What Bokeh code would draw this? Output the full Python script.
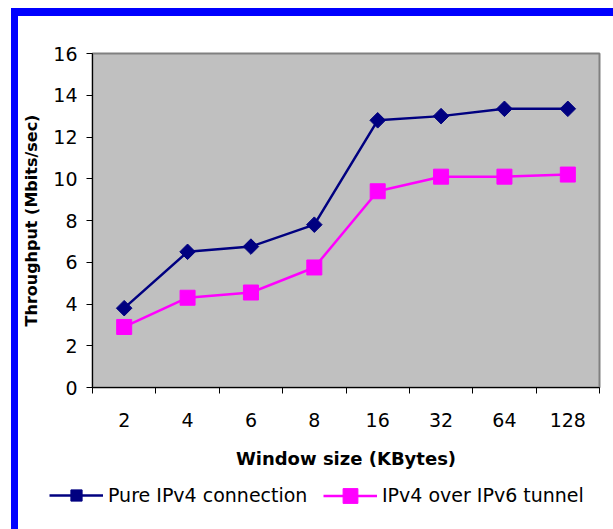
import numpy as np
from bokeh.plotting import figure
from bokeh.layouts import column
from bokeh.models import Range1d, FixedTicker, Legend, LegendItem
from bokeh.embed import file_html
from bokeh.resources import INLINE

# TCP window sizes (KBytes) and measured throughput (Mbits/sec)
window_sizes = ["2", "4", "6", "8", "16", "32", "64", "128"]
pure_ipv4 = [3.8, 6.5, 6.75, 7.8, 12.8, 13.0, 13.35, 13.35]
ipv4_over_ipv6 = [2.9, 4.3, 4.55, 5.75, 9.4, 10.1, 10.1, 10.2]
y_ticks = [0, 2, 4, 6, 8, 10, 12, 14, 16]
series_names = ["Pure IPv4 connection", "IPv4 over IPv6 tunnel"]

FONT = "DejaVu Sans"
NAVY = "#000080"
MAGENTA = "#FF00FF"
W = 595

# categories sit in the middle of unit-wide slots; tick marks fall on slot boundaries
n = len(window_sizes)
centers = list(np.arange(n) + 0.5)
bounds = list(np.arange(n + 1).astype(float))

p = figure(
    width=W, height=465,
    x_range=Range1d(0, n), y_range=Range1d(y_ticks[0], y_ticks[-1]),
    output_backend="svg", toolbar_location=None,
    min_border_left=74, min_border_right=14, min_border_top=37, min_border_bottom=94,
)
p.frame_align = False
p.background_fill_color = "#C0C0C0"
p.border_fill_color = "white"
p.outline_line_color = "#808080"
p.outline_line_width = 2
p.grid.visible = False

xa = p.xaxis[0]
xa.ticker = FixedTicker(ticks=centers, minor_ticks=bounds)
xa.major_label_overrides = {c: lab for c, lab in zip(centers, window_sizes)}
xa.major_tick_out = 0
xa.major_tick_in = 0
xa.minor_tick_out = 6
xa.minor_tick_in = 0
xa.minor_tick_line_color = "black"
xa.axis_line_color = "black"
xa.major_label_text_font = FONT
xa.major_label_text_font_size = "19px"
xa.major_label_text_color = "black"
xa.major_label_standoff = 19
xa.axis_label = "Window size (KBytes)"
xa.axis_label_text_font = FONT
xa.axis_label_text_font_size = "18px"
xa.axis_label_text_font_style = "bold"
xa.axis_label_text_color = "black"
xa.axis_label_standoff = 18

ya = p.yaxis[0]
ya.ticker = FixedTicker(ticks=y_ticks)
ya.major_tick_out = 6
ya.major_tick_in = 0
ya.minor_tick_out = 0
ya.minor_tick_in = 0
ya.axis_line_color = "black"
ya.major_label_text_font = FONT
ya.major_label_text_font_size = "19px"
ya.major_label_text_color = "black"
ya.major_label_standoff = 9
ya.axis_label = "Throughput (Mbits/sec)"
ya.axis_label_text_font = FONT
ya.axis_label_text_font_size = "16px"
ya.axis_label_text_font_style = "bold"
ya.axis_label_text_color = "black"
ya.axis_label_standoff = 9

line_style = dict(line_width=2.5)
ipv4_marker = dict(marker="square", angle=np.pi / 4, size=11, fill_color=NAVY, line_color=NAVY)
tunnel_marker = dict(marker="square", size=15, fill_color=MAGENTA, line_color=MAGENTA)

p.line(centers, pure_ipv4, line_color=NAVY, **line_style)
p.scatter(centers, pure_ipv4, **ipv4_marker)
p.line(centers, ipv4_over_ipv6, line_color=MAGENTA, **line_style)
p.scatter(centers, ipv4_over_ipv6, **tunnel_marker)

# legend strip under the chart; its key renderers hold one point outside the view
LH = 48
lf = figure(
    width=W, height=LH,
    x_range=Range1d(0, W), y_range=Range1d(0, LH),
    output_backend="svg", toolbar_location=None,
    min_border=0,
)
lf.frame_align = False
lf.axis.visible = False
lf.grid.visible = False
lf.outline_line_color = None
lf.background_fill_color = "white"
lf.border_fill_color = "white"

off = [-100]
k1 = [lf.line(off, off, line_color=NAVY, **line_style), lf.scatter(off, off, **ipv4_marker)]
k2 = [lf.line(off, off, line_color=MAGENTA, **line_style), lf.scatter(off, off, **tunnel_marker)]

# one legend per series so each key marker gets its own size (marker = 0.4 * glyph_height)
ROW_MID = 34
for name, rends, x0, gh in [(series_names[0], k1, 31, 28), (series_names[1], k2, 305, 37)]:
    lf.add_layout(Legend(
        items=[LegendItem(label=name, renderers=rends)],
        orientation="horizontal",
        location=(x0, ROW_MID - gh / 2),
        label_text_font=FONT,
        label_text_font_size="19px",
        label_text_color="black",
        glyph_width=54, glyph_height=gh,
        label_standoff=5, spacing=0,
        padding=0, margin=0,
        border_line_color=None,
        background_fill_alpha=0,
    ))

layout = column(p, lf, spacing=0)
# chart sits inside a blue frame that shows along its top and left edges
layout.styles = {
    "margin-left": "18px",
    "margin-top": "16px",
    "box-shadow": "0px -1px 0px 7px #0000FF",
}

open("out.html", "w").write(file_html(layout, INLINE))
